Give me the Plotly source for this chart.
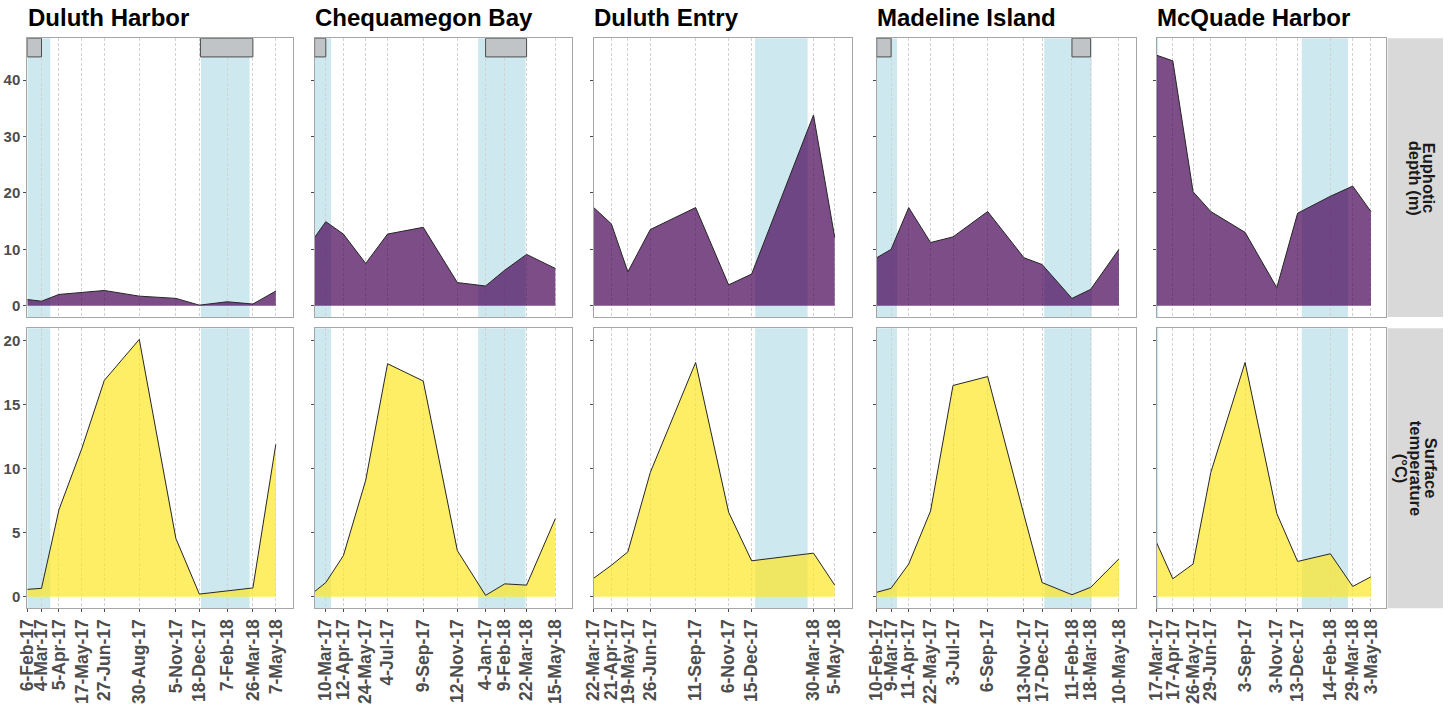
import plotly.graph_objects as go

W, H = 1450, 709

site_names = ["Duluth Harbor", "Chequamegon Bay", "Duluth Entry", "Madeline Island", "McQuade Harbor"]
row_labels = [["Euphotic", "depth (m)"], ["Surface", "temperature", "(°C)"]]

# ---------------- data ----------------
dh_dates = ["2017-02-06", "2017-03-04", "2017-04-05", "2017-05-17", "2017-06-27", "2017-08-30",
            "2017-11-05", "2017-12-18", "2018-02-07", "2018-03-26", "2018-05-07"]
dh_labels = ["6-Feb-17", "4-Mar-17", "5-Apr-17", "17-May-17", "27-Jun-17", "30-Aug-17",
             "5-Nov-17", "18-Dec-17", "7-Feb-18", "26-Mar-18", "7-May-18"]
dh_euphotic = [1.1, 0.8, 2.0, 2.3, 2.7, 1.7, 1.3, 0.1, 0.7, 0.3, 2.6]
dh_temp = [0.57, 0.65, 6.8, 11.6, 16.9, 20.1, 4.55, 0.2, 0.45, 0.68, 11.9]
dh_ice = [["2017-02-06", "2017-03-04"], ["2017-12-20", "2018-03-26"]]

cb_dates = ["2017-02-17", "2017-03-10", "2017-04-12", "2017-05-24", "2017-07-04", "2017-09-09",
            "2017-11-12", "2018-01-04", "2018-02-09", "2018-03-22", "2018-05-15"]
cb_labels = ["", "10-Mar-17", "12-Apr-17", "24-May-17", "4-Jul-17", "9-Sep-17",
             "12-Nov-17", "4-Jan-17", "9-Feb-18", "22-Mar-18", "15-May-18"]
cb_euphotic = [12.1, 14.9, 12.7, 7.5, 12.7, 13.9, 4.1, 3.5, 6.3, 9.1, 6.6]
cb_temp = [0.4, 1.1, 3.2, 9.1, 18.2, 16.85, 3.6, 0.1, 1.0, 0.9, 6.1]
cb_ice = [["2017-02-17", "2017-03-10"], ["2018-01-04", "2018-03-22"]]

de_dates = ["2017-03-22", "2017-04-21", "2017-05-19", "2017-06-26", "2017-09-11", "2017-11-06",
            "2017-12-15", "2018-03-30", "2018-05-05"]
de_labels = ["22-Mar-17", "21-Apr-17", "19-May-17", "26-Jun-17", "11-Sep-17", "6-Nov-17",
             "15-Dec-17", "30-Mar-18", "5-May-18"]
de_euphotic = [17.4, 14.5, 6.0, 13.5, 17.4, 3.7, 5.6, 33.8, 12.1]
de_temp = [1.44, 2.45, 3.5, 9.7, 18.3, 6.6, 2.8, 3.4, 0.9]
de_ice = []

mi_dates = ["2017-02-10", "2017-03-09", "2017-04-11", "2017-05-22", "2017-07-03", "2017-09-06",
            "2017-11-13", "2017-12-17", "2018-02-11", "2018-03-18", "2018-05-10"]
mi_labels = ["10-Feb-17", "9-Mar-17", "11-Apr-17", "22-May-17", "3-Jul-17", "6-Sep-17",
             "13-Nov-17", "17-Dec-17", "11-Feb-18", "18-Mar-18", "10-May-18"]
mi_euphotic = [8.5, 10.0, 17.4, 11.2, 12.2, 16.7, 8.5, 7.3, 1.3, 2.9, 10.0]
mi_temp = [0.34, 0.65, 2.55, 6.7, 16.5, 17.2, 6.4, 1.1, 0.15, 0.73, 2.95]
mi_ice = [["2017-02-10", "2017-03-09"], ["2018-02-11", "2018-03-18"]]

mq_dates = ["2017-03-17", "2017-04-17", "2017-05-26", "2017-06-29", "2017-09-03", "2017-11-03",
            "2017-12-13", "2018-02-14", "2018-03-29", "2018-05-03"]
mq_labels = ["17-Mar-17", "17-Apr-17", "26-May-17", "29-Jun-17", "3-Sep-17", "3-Nov-17",
             "13-Dec-17", "14-Feb-18", "29-Mar-18", "3-May-18"]
mq_euphotic = [44.4, 43.4, 20.2, 16.7, 13.0, 3.2, 16.4, 19.4, 21.2, 16.7]
mq_temp = [4.2, 1.4, 2.55, 9.7, 18.3, 6.5, 2.75, 3.35, 0.8, 1.55]
mq_ice = []

winter_periods = [["2016-12-21", "2017-03-20"], ["2017-12-21", "2018-03-20"]]

euphotic_ticks = [0, 10, 20, 30, 40]
temp_ticks = [0, 5, 10, 15, 20]

# ---------------- layout helpers ----------------
site_data = [
    (dh_dates, dh_labels, dh_euphotic, dh_temp, dh_ice),
    (cb_dates, cb_labels, cb_euphotic, cb_temp, cb_ice),
    (de_dates, de_labels, de_euphotic, de_temp, de_ice),
    (mi_dates, mi_labels, mi_euphotic, mi_temp, mi_ice),
    (mq_dates, mq_labels, mq_euphotic, mq_temp, mq_ice),
]
x_ranges = [["2017-02-06", "2018-06-08"], ["2017-02-17", "2018-06-16"], ["2017-03-22", "2018-06-03"],
            ["2017-02-10", "2018-06-11"], ["2017-03-17", "2018-06-01"]]
panel_px = [(27.3, 293.3), (314.6, 572.4), (593.7, 851.8), (876.7, 1136.0), (1156.7, 1386.0)]
row_px = [(38.3, 317.0), (328.3, 608.3)]
y_ranges = [[-2.0, 47.4], [-0.91, 20.97]]
strip_px = (1387.5, 1443.0)
strip_line_px = [[1429.0, 1415.0], [1430.5, 1415.5, 1400.5]]

def px_x(p):
    return p / W

def px_y(p):
    return 1 - p / H

FONT = "Liberation Sans"
fill_colors = ["rgba(68,1,84,0.7)", "rgba(253,231,37,0.7)"]
line_color = "#262626"
winter_color = "rgba(173,216,230,0.6)"

fig = go.Figure()
layout = dict(
    width=W, height=H, autosize=False,
    margin=dict(l=0, r=0, t=0, b=0, pad=0),
    paper_bgcolor="white", plot_bgcolor="white",
    showlegend=False,
    font=dict(family=FONT),
)
shapes = []
annotations = []

for r in range(2):
    for i in range(5):
        k = r * 5 + i + 1
        xa = "xaxis" if k == 1 else f"xaxis{k}"
        ya = "yaxis" if k == 1 else f"yaxis{k}"
        xref = "x" if k == 1 else f"x{k}"
        yref = "y" if k == 1 else f"y{k}"
        dates, labels, eu, temp, ice = site_data[i]
        vals = eu if r == 0 else temp
        tickvals = [d for d, l in zip(dates, labels) if l]
        ticktext = [l for l in labels if l]
        layout[xa] = dict(
            type="date", range=x_ranges[i], anchor=yref, automargin=False,
            domain=[px_x(panel_px[i][0]), px_x(panel_px[i][1])],
            tickmode="array", tickvals=tickvals, ticktext=ticktext,
            showticklabels=(r == 1), tickangle=-90,
            ticks="outside" if r == 1 else "", ticklen=3, tickcolor="#4d4d4d", tickwidth=1,
            tickfont=dict(family=FONT, size=17.5, color="#4d4d4d", weight="bold"),
            showgrid=True, gridcolor="#d2d2d2", gridwidth=0.7, griddash="3px,2px",
            zeroline=False, showline=True, mirror=True, linecolor="#a6a6a6", linewidth=1,
            fixedrange=True,
        )
        layout[ya] = dict(
            range=y_ranges[r], anchor=xref, automargin=False,
            domain=[px_y(row_px[r][1]), px_y(row_px[r][0])],
            tickmode="array", tickvals=euphotic_ticks if r == 0 else temp_ticks,
            showticklabels=(i == 0), ticks="outside", ticklen=3, tickcolor="#4d4d4d", tickwidth=1,
            tickfont=dict(family=FONT, size=15, color="#4d4d4d", weight="bold"),
            showgrid=False, zeroline=False, showline=True, mirror=True,
            linecolor="#a6a6a6", linewidth=1, fixedrange=True,
        )
        # winter shading
        for w0, w1 in winter_periods:
            a = max(w0, x_ranges[i][0])
            b = min(w1, x_ranges[i][1])
            if a < b:
                shapes.append(dict(type="rect", xref=xref, yref=f"{yref} domain",
                                   x0=a, x1=b, y0=0, y1=1, fillcolor=winter_color,
                                   line=dict(width=0), layer="below"))
        # ice boxes (top row)
        if r == 0:
            for i0, i1 in ice:
                shapes.append(dict(type="rect", xref=xref, yref=yref,
                                   x0=max(i0, x_ranges[i][0]), x1=i1, y0=44.1, y1=y_ranges[0][1],
                                   fillcolor="#c1c4c7", line=dict(color="#4d4d4d", width=1),
                                   layer="above"))
        fig.add_trace(go.Scatter(
            x=dates, y=vals, mode="lines", fill="tozeroy",
            fillcolor=fill_colors[r], line=dict(color=line_color, width=1),
            xaxis=xref, yaxis=yref, hoverinfo="skip",
        ))

# titles
for i, name in enumerate(site_names):
    annotations.append(dict(text=f"<b>{name}</b>", xref="paper", yref="paper",
                            x=px_x(panel_px[i][0]) - 0.001, y=px_y(33), xanchor="left", yanchor="bottom",
                            showarrow=False, font=dict(family=FONT, size=24, color="black")))

# strips on the right
for r in range(2):
    shapes.append(dict(type="rect", xref="paper", yref="paper",
                       x0=px_x(strip_px[0]), x1=px_x(strip_px[1]),
                       y0=px_y(row_px[r][1]), y1=px_y(row_px[r][0]),
                       fillcolor="#d9d9d9", line=dict(width=0), layer="below"))
    for txt, lx in zip(row_labels[r], strip_line_px[r]):
        annotations.append(dict(text=f"<b>{txt}</b>", xref="paper", yref="paper",
                                x=px_x(lx), y=px_y((row_px[r][0] + row_px[r][1]) / 2),
                                xanchor="center", yanchor="middle", textangle=90, showarrow=False,
                                font=dict(family=FONT, size=16.5, color="#1a1a1a")))

layout["shapes"] = shapes
layout["annotations"] = annotations
fig.update_layout(**layout)
fig.write_html("out.html", config={"displayModeBar": False},
               post_script="document.body.style.margin='0';document.body.style.overflow='hidden';")
